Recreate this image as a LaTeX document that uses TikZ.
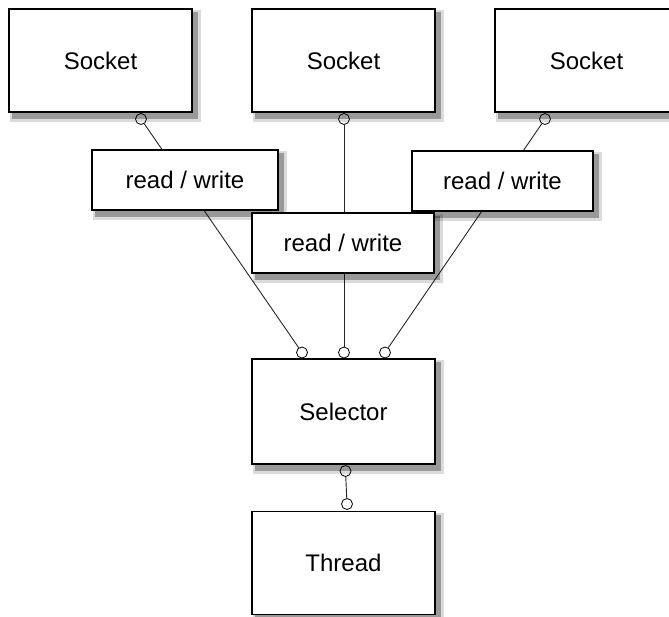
\documentclass[tikz,border=0pt]{standalone}
\usepackage{fontspec}
\setmainfont{Liberation Sans}
\usetikzlibrary{backgrounds}

\begin{document}
\begin{tikzpicture}[x=1pt, y=-1pt,
    box/.style={draw=black, line width=1.4pt, fill=white, inner sep=0pt,
      font=\fontsize{24}{28}\selectfont},
    bigbox/.style={box, minimum width=183pt, minimum height=103pt},
    rwbox/.style={box, minimum height=60pt},
    port/.style={circle, draw=black, line width=0.8pt, inner sep=0pt, minimum size=11pt},
    wire/.style={draw=black!85, line width=0.9pt},
    shade1/.style={fill=black, opacity=.14},
    shade2/.style={fill=black, opacity=.3}]
  \useasboundingbox (0,0) rectangle (669,616);

  % Sockets Row
  \node[bigbox] (sock1) at (100.5,60.5) {Socket};
  \node[bigbox] (sock2) at (343.5,60.5) {Socket};
  \node[bigbox] (sock3) at (586.5,60.5) {Socket};

  % read / write boxes
  \node[rwbox, minimum width=186pt] (rw1) at (185,180) {read / write};
  \node[rwbox, minimum width=181pt] (rw3) at (502.5,181) {read / write};
  \node[rwbox, minimum width=182pt] (rw2) at (343,243) {read / write};

  % Selector and Thread
  \node[bigbox, minimum height=105pt] (sel) at (343.5,411.5) {Selector};
  \node[bigbox] (thr) at (343.5,563) {Thread};

  % Ports
  \node[port] (p1) at (141,119) {};
  \node[port] (p2) at (344,119) {};
  \node[port] (p3) at (545,119) {};
  \node[port] (q1) at (302,352.5) {};
  \node[port] (q2) at (344,352.5) {};
  \node[port] (q3) at (385,352.5) {};
  \node[port] (r1) at (345.5,471) {};
  \node[port] (r2) at (347,504) {};

  % Wires and shadows behind the boxes
  \begin{scope}[on background layer]
    \draw[wire] (p1) -- (q1);
    \draw[wire] (p2) -- (q2);
    \draw[wire] (p3) -- (q3);
    \draw[wire] (r1) -- (r2);
    \foreach \b in {sock1,sock2,sock3,rw1,rw2,rw3,sel,thr} {
      \fill[shade1] ([shift={(2,2)}]\b.north west) rectangle ([shift={(8,9)}]\b.south east);
      \fill[shade2] ([shift={(4,4)}]\b.north west) rectangle ([shift={(5,6)}]\b.south east);
    }
  \end{scope}
\end{tikzpicture}
\end{document}
